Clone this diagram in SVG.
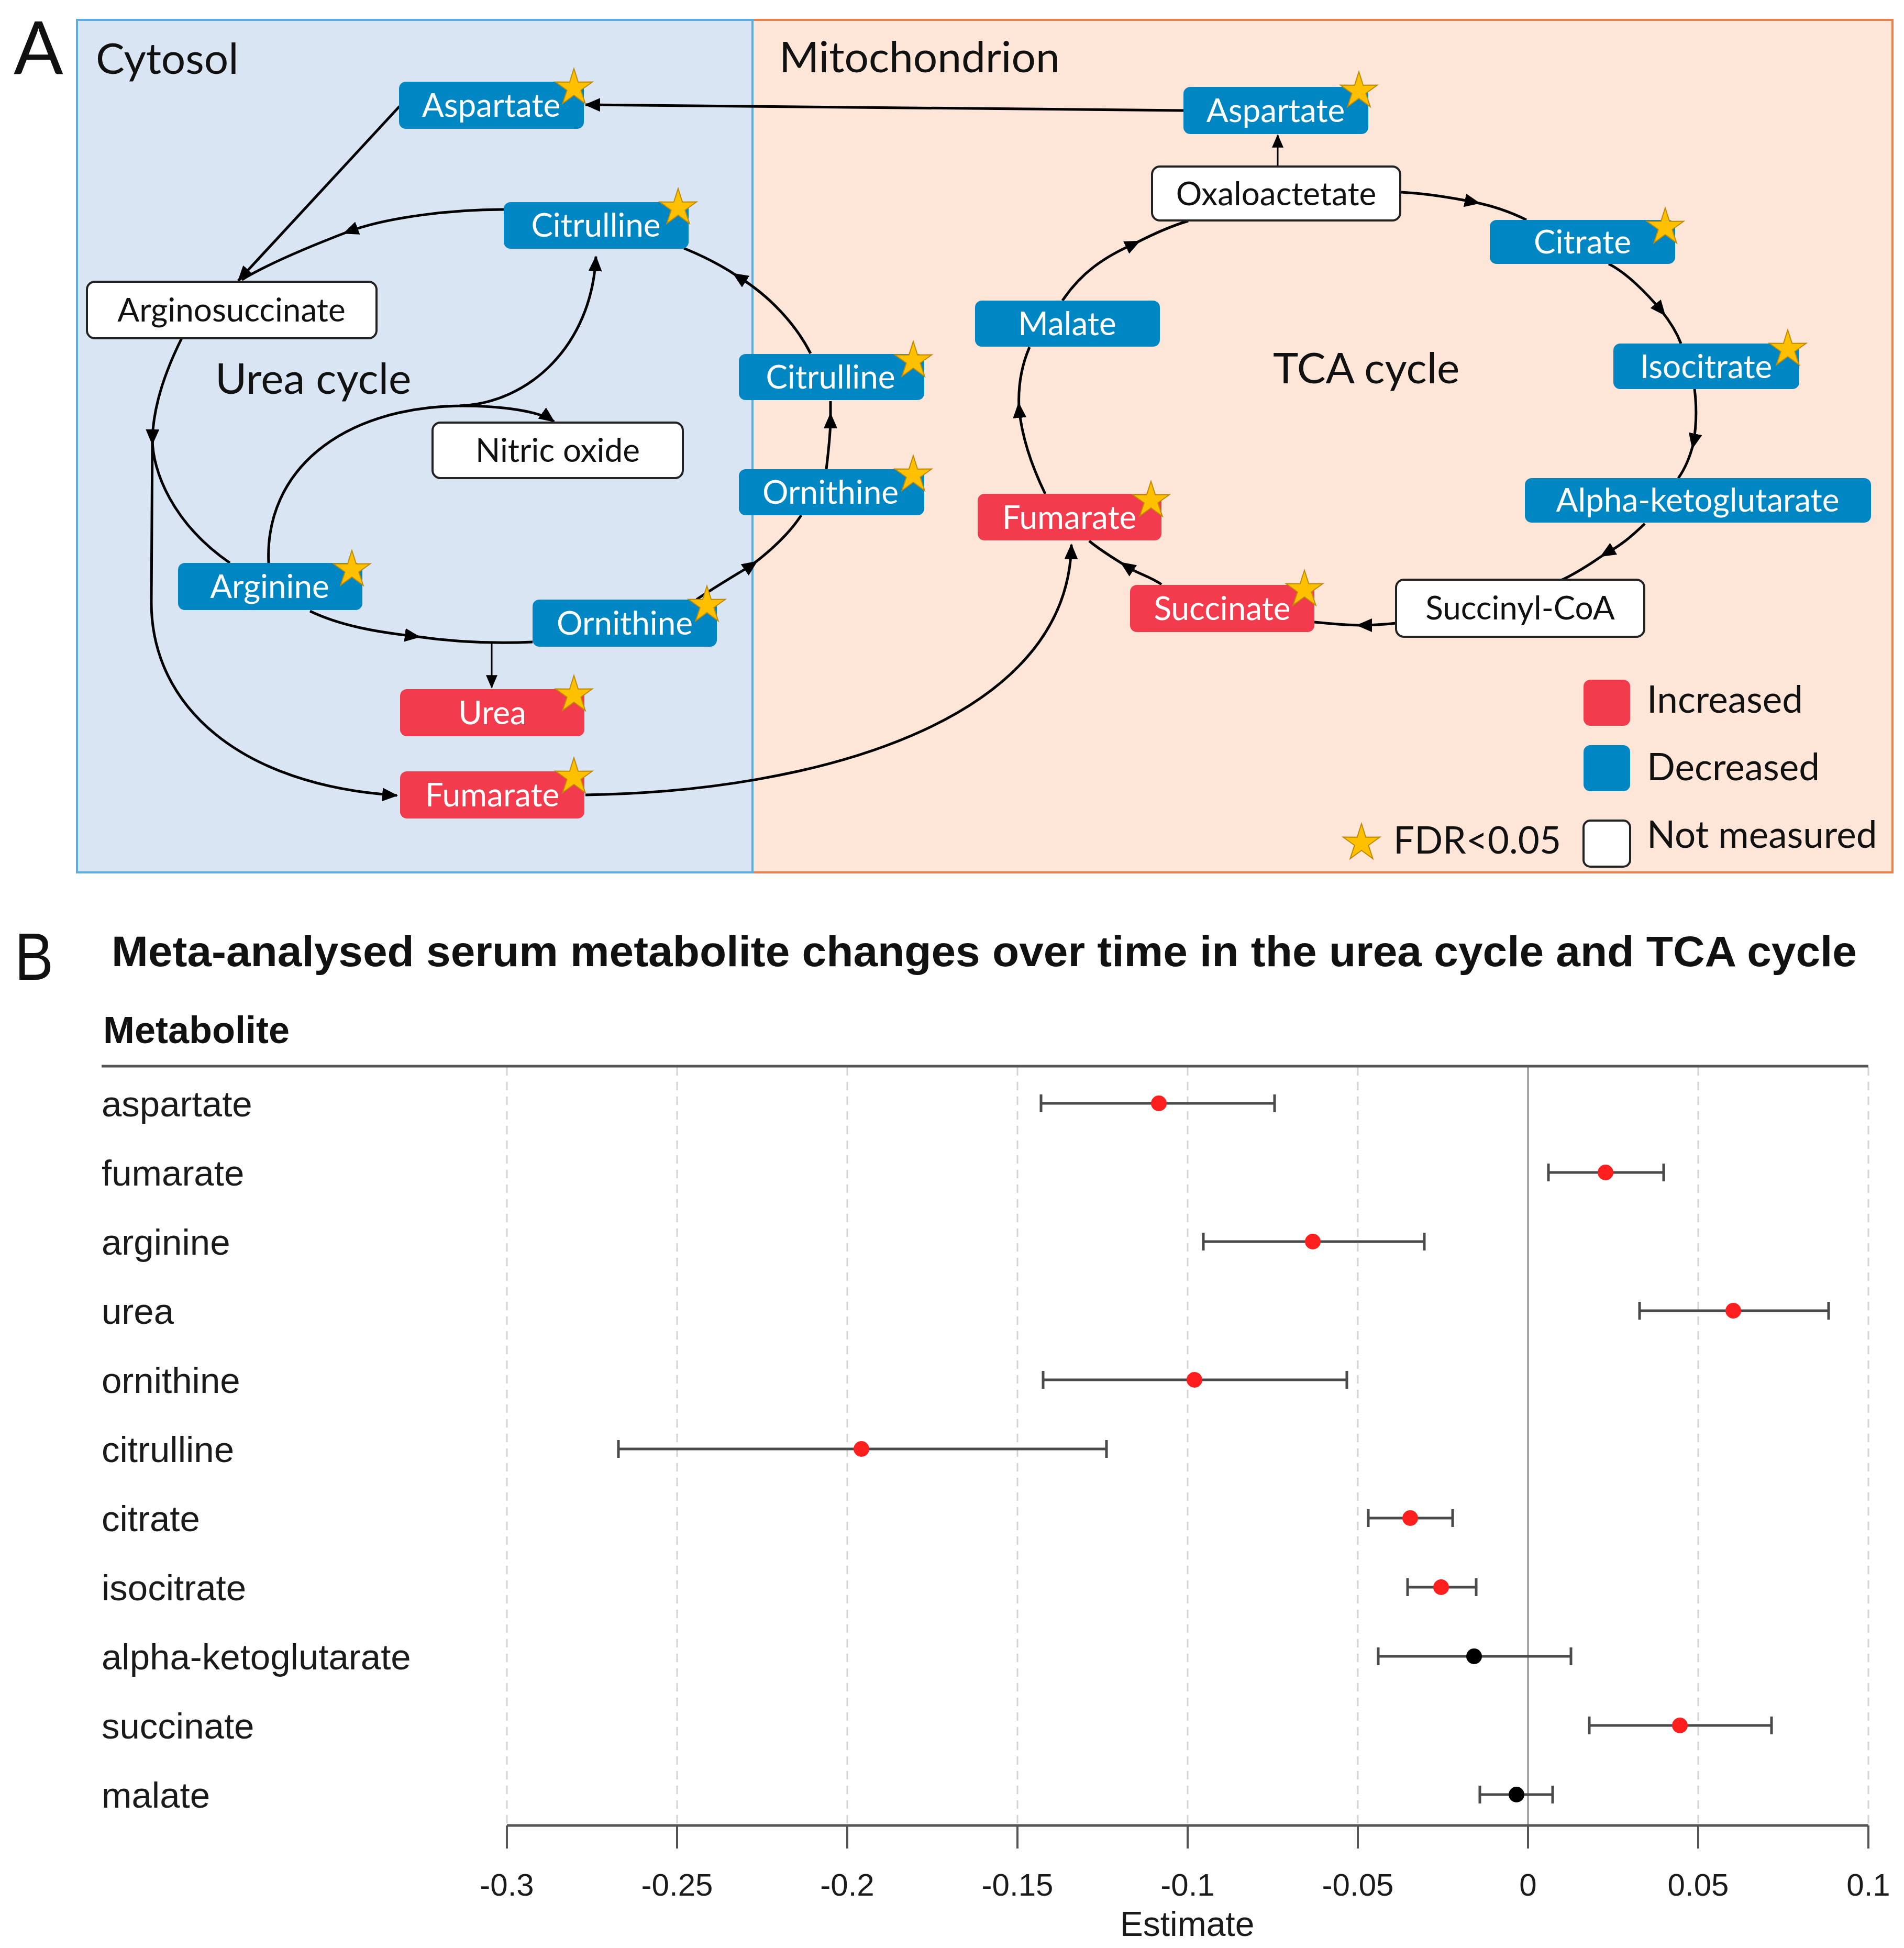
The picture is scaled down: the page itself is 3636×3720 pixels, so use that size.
<svg xmlns="http://www.w3.org/2000/svg" xmlns:xlink="http://www.w3.org/1999/xlink" width="3636" height="3720" viewBox="0 0 3636 3720">
<style>
.lbl{font-family:Lato,"Open Sans","Liberation Sans",sans-serif;}
.nt{font-family:Lato,"Open Sans",sans-serif;font-size:62px;fill:#fff;text-anchor:middle;}
.nk{font-family:Lato,"Open Sans",sans-serif;font-size:62px;fill:#111;text-anchor:middle;}
.blue{fill:#0086C2;}
.red{fill:#F33B4E;}
.wbox{fill:#fff;stroke:#222;stroke-width:4;}
.cn{fill:none;stroke:#000;stroke-width:5;}
.cnt{fill:none;stroke:#000;stroke-width:3;}
.ar{font-family:"Liberation Sans",Arial,sans-serif;}
.rowl{font-family:"Liberation Sans",Arial,sans-serif;font-size:69px;fill:#1a1a1a;}
.tick{font-family:"Liberation Sans",Arial,sans-serif;font-size:60px;fill:#1a1a1a;text-anchor:middle;}
.grid{stroke:#d4d4d4;stroke-width:3;stroke-dasharray:16 12;}
.eb{stroke:#4a4a4a;stroke-width:5;fill:none;}
</style>
<defs>
<polygon id="star" points="0,-37 8.2,-11.3 35.2,-11.4 13.3,4.3 21.7,29.9 0,14 -21.7,29.9 -13.3,4.3 -35.2,-11.4 -8.2,-11.3" fill="#FFC000" stroke="#C08A00" stroke-width="2"/>
<marker id="ah" viewBox="0 0 30 26" refX="28" refY="13" markerWidth="30" markerHeight="26" markerUnits="userSpaceOnUse" orient="auto"><path d="M0,0 L30,13 L0,26 z" fill="#000"/></marker>
<marker id="am" viewBox="0 0 30 26" refX="18" refY="13" markerWidth="30" markerHeight="26" markerUnits="userSpaceOnUse" orient="auto"><path d="M0,0 L30,13 L0,26 z" fill="#000"/></marker>
<marker id="ahs" viewBox="0 0 30 26" refX="28" refY="13" markerWidth="26" markerHeight="22" markerUnits="userSpaceOnUse" orient="auto"><path d="M0,0 L30,13 L0,26 z" fill="#000"/></marker>
</defs>
<rect width="3636" height="3720" fill="#fff"/>

<!-- Panel A compartments -->
<g id="mitochondrion">
<rect x="1437" y="38" width="2177" height="1628" fill="#FDE6D8" stroke="#E8834E" stroke-width="4"/>
<text class="lbl" x="1488" y="138" font-size="82" fill="#111">Mitochondrion</text>
</g>
<g id="cytosol">
<rect x="147" y="38" width="1290" height="1628" fill="#DAE5F4" stroke="#5AAEE2" stroke-width="4"/>
<text class="lbl" x="183" y="141" font-size="82" fill="#111">Cytosol</text>
</g>
<text class="lbl" x="26" y="141" font-size="140" fill="#111">A</text>
<text class="lbl" x="411" y="752" font-size="82" fill="#111">Urea cycle</text>
<text class="lbl" x="2431" y="732" font-size="82" fill="#111">TCA cycle</text>

<!-- connectors -->
<g id="connectors">
<path class="cn" d="M2260 211 L1118 200" marker-end="url(#ah)"/>
<path class="cn" d="M763 203 L455 536" marker-end="url(#ah)"/>
<path class="cn" d="M962 400 C860 400 740 415 666 442 C580 475 510 505 462 534" marker-mid="url(#am)"/>
<path class="cn" d="M347 646 C320 700 293 770 291 838 C291 900 330 1000 439 1075" marker-mid="url(#am)"/>
<path class="cn" d="M291 838 L289 1150 C289 1350 460 1500 758 1519" marker-end="url(#ah)"/>
<path class="cn" d="M592 1167 C650 1195 720 1207 791 1215 C860 1225 930 1230 1017 1226" marker-mid="url(#am)"/>
<path class="cnt" d="M939 1229 L939 1313" marker-end="url(#ahs)"/>
<path class="cn" d="M513 1075 C505 900 650 778 878 775 C1010 770 1130 660 1138 490" marker-end="url(#ah)"/>
<path class="cn" d="M878 775 C960 775 1030 785 1058 805" marker-end="url(#ah)"/>
<path class="cn" d="M1330 1145 C1370 1118 1410 1095 1437 1078 C1480 1045 1510 1015 1530 984" marker-mid="url(#am)"/>
<path class="cn" d="M1578 896 C1582 860 1586 830 1586 800 L1586 766" marker-mid="url(#am)"/>
<path class="cn" d="M1548 675 C1520 620 1470 565 1409 528 C1380 508 1345 490 1306 474" marker-mid="url(#am)"/>
<path class="cn" d="M1118 1518 C1550 1512 2040 1380 2046 1040" marker-end="url(#ah)"/>
<path class="cnt" d="M2440 318 L2440 258" marker-end="url(#ahs)"/>
<path class="cn" d="M2676 367 C2730 370 2775 378 2815 386 C2850 393 2885 405 2915 420" marker-mid="url(#am)"/>
<path class="cn" d="M3072 504 C3105 520 3145 560 3173 594 C3190 615 3202 635 3210 656" marker-mid="url(#am)"/>
<path class="cn" d="M3236 743 C3240 775 3240 810 3234 846 C3228 870 3218 895 3205 913" marker-mid="url(#am)"/>
<path class="cn" d="M3141 1000 C3115 1025 3095 1042 3066 1057 C3040 1075 3010 1095 2981 1108" marker-mid="url(#am)"/>
<path class="cn" d="M2666 1190 C2645 1192 2625 1194 2602 1194 C2570 1194 2540 1191 2510 1188" marker-mid="url(#am)"/>
<path class="cn" d="M2218 1116 C2195 1100 2170 1095 2149 1080 C2125 1065 2100 1050 2080 1033" marker-mid="url(#am)"/>
<path class="cn" d="M1996 943 C1975 900 1952 840 1946 780 C1944 740 1950 700 1966 663" marker-mid="url(#am)"/>
<path class="cn" d="M2029 574 C2065 520 2110 490 2167 465 C2200 448 2235 432 2269 422" marker-mid="url(#am)"/>
</g>

<!-- Cytosol nodes -->
<g id="cyt-aspartate"><rect class="blue" x="762" y="156" width="353" height="90" rx="13"/><text class="nt" x="938" y="223">Aspartate</text><use xlink:href="#star" x="1096" y="168"/></g>
<g id="cyt-citrulline"><rect class="blue" x="962" y="386" width="353" height="89" rx="13"/><text class="nt" x="1138" y="452">Citrulline</text><use xlink:href="#star" x="1295" y="397"/></g>
<g id="arginosuccinate"><rect class="wbox" x="166" y="538" width="553" height="108" rx="15"/><text class="nk" x="442" y="614">Arginosuccinate</text></g>
<g id="nitric-oxide"><rect class="wbox" x="826" y="807" width="478" height="106" rx="15"/><text class="nk" x="1065" y="882">Nitric oxide</text></g>
<g id="arginine"><rect class="blue" x="340" y="1075" width="352" height="90" rx="13"/><text class="nt" x="515" y="1142">Arginine</text><use xlink:href="#star" x="672" y="1088"/></g>
<g id="cyt-ornithine"><rect class="blue" x="1017" y="1145" width="352" height="90" rx="13"/><text class="nt" x="1193" y="1212">Ornithine</text><use xlink:href="#star" x="1350" y="1156"/></g>
<g id="urea"><rect class="red" x="764" y="1316" width="352" height="90" rx="13"/><text class="nt" x="940" y="1383">Urea</text><use xlink:href="#star" x="1096" y="1327"/></g>
<g id="cyt-fumarate"><rect class="red" x="764" y="1473" width="352" height="90" rx="13"/><text class="nt" x="940" y="1540">Fumarate</text><use xlink:href="#star" x="1096" y="1484"/></g>
<g id="mito-citrulline"><rect class="blue" x="1411" y="676" width="354" height="88" rx="13"/><text class="nt" x="1586" y="742">Citrulline</text><use xlink:href="#star" x="1744" y="689"/></g>
<g id="mito-ornithine"><rect class="blue" x="1411" y="896" width="354" height="88" rx="13"/><text class="nt" x="1586" y="962">Ornithine</text><use xlink:href="#star" x="1744" y="907"/></g>

<!-- Mitochondrion nodes -->
<g id="mito-aspartate"><rect class="blue" x="2260" y="166" width="353" height="90" rx="13"/><text class="nt" x="2436" y="233">Aspartate</text><use xlink:href="#star" x="2595" y="174"/></g>
<g id="oxaloactetate"><rect class="wbox" x="2200" y="318" width="474" height="103" rx="15"/><text class="nk" x="2437" y="392">Oxaloactetate</text></g>
<g id="citrate"><rect class="blue" x="2845" y="420" width="354" height="84" rx="13"/><text class="nt" x="3022" y="484">Citrate</text><use xlink:href="#star" x="3180" y="434"/></g>
<g id="malate"><rect class="blue" x="1862" y="574" width="353" height="88" rx="13"/><text class="nt" x="2038" y="640">Malate</text></g>
<g id="isocitrate"><rect class="blue" x="3081" y="656" width="355" height="87" rx="13"/><text class="nt" x="3258" y="722">Isocitrate</text><use xlink:href="#star" x="3414" y="667"/></g>
<g id="alpha-ketoglutarate"><rect class="blue" x="2912" y="913" width="661" height="85" rx="13"/><text class="nt" x="3242" y="977">Alpha-ketoglutarate</text></g>
<g id="mito-fumarate"><rect class="red" x="1867" y="943" width="351" height="89" rx="13"/><text class="nt" x="2042" y="1010">Fumarate</text><use xlink:href="#star" x="2198" y="956"/></g>
<g id="succinate"><rect class="red" x="2158" y="1117" width="352" height="90" rx="13"/><text class="nt" x="2334" y="1184">Succinate</text><use xlink:href="#star" x="2491" y="1126"/></g>
<g id="succinyl-coa"><rect class="wbox" x="2666" y="1107" width="474" height="109" rx="15"/><text class="nk" x="2903" y="1183">Succinyl-CoA</text></g>

<!-- Legend -->
<g id="legend">
<rect class="red" x="3024" y="1298" width="89" height="88" rx="13"/>
<text class="lbl" x="3145" y="1361" font-size="71" fill="#111">Increased</text>
<rect class="blue" x="3024" y="1423" width="89" height="88" rx="13"/>
<text class="lbl" x="3145" y="1490" font-size="71" fill="#111">Decreased</text>
<rect class="wbox" x="3024" y="1567" width="89" height="88" rx="13"/>
<text class="lbl" x="3145" y="1619" font-size="71" fill="#111">Not measured</text>
<use xlink:href="#star" x="2600" y="1610"/>
<text class="lbl" x="2661" y="1630" font-size="71" fill="#111">FDR&lt;0.05</text>
</g>

<!-- Panel B -->
<g id="panel-b">
<text class="ar" x="28" y="1871" font-size="128" textLength="74" lengthAdjust="spacingAndGlyphs" fill="#111">B</text>
<text class="ar" x="213" y="1845" font-size="82" font-weight="bold" textLength="3333" lengthAdjust="spacingAndGlyphs" fill="#111">Meta-analysed serum metabolite changes over time in the urea cycle and TCA cycle</text>
<text class="ar" x="197" y="1992" font-size="72" font-weight="bold" fill="#111">Metabolite</text>
<g id="gridlines">
<line class="grid" x1="968" y1="2038" x2="968" y2="3486"/>
<line class="grid" x1="1293" y1="2038" x2="1293" y2="3486"/>
<line class="grid" x1="1618" y1="2038" x2="1618" y2="3486"/>
<line class="grid" x1="1943" y1="2038" x2="1943" y2="3486"/>
<line class="grid" x1="2268" y1="2038" x2="2268" y2="3486"/>
<line class="grid" x1="2593" y1="2038" x2="2593" y2="3486"/>
<line class="grid" x1="3243" y1="2038" x2="3243" y2="3486"/>
<line class="grid" x1="3568" y1="2038" x2="3568" y2="3486"/>
<line x1="2918" y1="2038" x2="2918" y2="3486" stroke="#8c8c8c" stroke-width="3"/>
</g>
<line x1="194" y1="2036" x2="3568" y2="2036" stroke="#555" stroke-width="5"/>
<g id="rows">
<text class="rowl" x="194" y="2132">aspartate</text>
<text class="rowl" x="194" y="2264">fumarate</text>
<text class="rowl" x="194" y="2396">arginine</text>
<text class="rowl" x="194" y="2528">urea</text>
<text class="rowl" x="194" y="2660">ornithine</text>
<text class="rowl" x="194" y="2792">citrulline</text>
<text class="rowl" x="194" y="2924">citrate</text>
<text class="rowl" x="194" y="3056">isocitrate</text>
<text class="rowl" x="194" y="3188">alpha-ketoglutarate</text>
<text class="rowl" x="194" y="3320">succinate</text>
<text class="rowl" x="194" y="3452">malate</text>
</g>
<g id="errorbars">
<path class="eb" d="M1988 2107 H2434 M1988 2090 V2124 M2434 2090 V2124"/>
<path class="eb" d="M2957 2239 H3177 M2957 2222 V2256 M3177 2222 V2256"/>
<path class="eb" d="M2298 2371 H2720 M2298 2354 V2388 M2720 2354 V2388"/>
<path class="eb" d="M3131 2503 H3492 M3131 2486 V2520 M3492 2486 V2520"/>
<path class="eb" d="M1992 2635 H2572 M1992 2618 V2652 M2572 2618 V2652"/>
<path class="eb" d="M1181 2767 H2113 M1181 2750 V2784 M2113 2750 V2784"/>
<path class="eb" d="M2613 2899 H2774 M2613 2882 V2916 M2774 2882 V2916"/>
<path class="eb" d="M2688 3031 H2819 M2688 3014 V3048 M2819 3014 V3048"/>
<path class="eb" d="M2632 3163 H3000 M2632 3146 V3180 M3000 3146 V3180"/>
<path class="eb" d="M3035 3295 H3383 M3035 3278 V3312 M3383 3278 V3312"/>
<path class="eb" d="M2826 3427 H2965 M2826 3410 V3444 M2965 3410 V3444"/>
</g>
<g id="points">
<circle cx="2213" cy="2107" r="15" fill="#FF1F1F"/>
<circle cx="3066" cy="2239" r="15" fill="#FF1F1F"/>
<circle cx="2507" cy="2371" r="15" fill="#FF1F1F"/>
<circle cx="3310" cy="2503" r="15" fill="#FF1F1F"/>
<circle cx="2281" cy="2635" r="15" fill="#FF1F1F"/>
<circle cx="1645" cy="2767" r="15" fill="#FF1F1F"/>
<circle cx="2693" cy="2899" r="15" fill="#FF1F1F"/>
<circle cx="2752" cy="3031" r="15" fill="#FF1F1F"/>
<circle cx="2815" cy="3163" r="15" fill="#000"/>
<circle cx="3208" cy="3295" r="15" fill="#FF1F1F"/>
<circle cx="2896" cy="3427" r="15" fill="#000"/>
</g>
<g id="x-axis">
<line x1="968" y1="3486" x2="3568" y2="3486" stroke="#555" stroke-width="5"/>
<path d="M968 3486 V3530 M1293 3486 V3530 M1618 3486 V3530 M1943 3486 V3530 M2268 3486 V3530 M2593 3486 V3530 M2918 3486 V3530 M3243 3486 V3530 M3568 3486 V3530" stroke="#555" stroke-width="4"/>
<text class="tick" x="968" y="3620">-0.3</text>
<text class="tick" x="1293" y="3620">-0.25</text>
<text class="tick" x="1618" y="3620">-0.2</text>
<text class="tick" x="1943" y="3620">-0.15</text>
<text class="tick" x="2268" y="3620">-0.1</text>
<text class="tick" x="2593" y="3620">-0.05</text>
<text class="tick" x="2918" y="3620">0</text>
<text class="tick" x="3243" y="3620">0.05</text>
<text class="tick" x="3568" y="3620">0.1</text>
<text class="ar" x="2267" y="3697" font-size="66" text-anchor="middle" fill="#1a1a1a">Estimate</text>
</g>
</g>
</svg>
